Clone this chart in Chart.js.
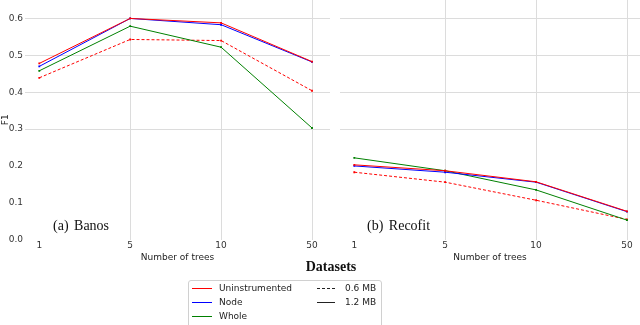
<!DOCTYPE html>
<html><head><meta charset="utf-8">
<script src="https://cdn.jsdelivr.net/npm/chart.js@4.4.1/dist/chart.umd.min.js"></script>
<style>
html,body{margin:0;padding:0;background:#fff;width:640px;height:325px;overflow:hidden;position:relative;}
#wrapL{position:absolute;left:0;top:0;width:330px;height:265px;}
#wrapR{position:absolute;left:330px;top:0;width:310px;height:265px;}
.panel{position:absolute;font-family:"Liberation Serif","DejaVu Serif",serif;font-size:14px;color:#111;white-space:nowrap;line-height:16px;word-spacing:2px;}
#title{position:absolute;left:281px;width:100px;top:259px;text-align:center;font-family:"Liberation Serif","DejaVu Serif",serif;font-weight:bold;font-size:14px;line-height:16px;color:#111;}
#legend{position:absolute;left:188px;top:280px;width:194px;height:60px;border:1px solid #d0d0d0;border-radius:3px;box-sizing:border-box;}
.li{position:absolute;font-family:"DejaVu Sans",sans-serif;font-size:9px;line-height:11px;color:#222;white-space:nowrap;}
.hd{position:absolute;height:1px;width:20px;}
</style>
</head><body>
<div id="wrapL"><canvas id="cL" width="330" height="265"></canvas></div>
<div id="wrapR"><canvas id="cR" width="310" height="265"></canvas></div>
<div class="panel" style="left:53px;top:218px;">(a) Banos</div>
<div class="panel" style="left:367px;top:218px;">(b) Recofit</div>
<div id="title">Datasets</div>
<div id="legend"></div>
<script>
// ---- data ----
const treeLabels = ['1', '5', '10', '50'];
const seriesNames = ['Uninstrumented', 'Node', 'Whole'];
const seriesColors = ['#ff0000', '#0000ff', '#008000'];
const sizeLabels = ['0.6 MB', '1.2 MB'];
const gridValues = [0.3, 0.4, 0.5, 0.6];

const banosUninstrumented12 = [0.478, 0.600, 0.588, 0.483];
const banosNode12           = [0.470, 0.600, 0.583, 0.482];
const banosWhole12          = [0.458, 0.579, 0.522, 0.303];
const banosUninstrumented06 = [0.439, 0.543, 0.540, 0.404];

const recofitUninstrumented12 = [0.203, 0.187, 0.157, 0.077];
const recofitNode12           = [0.200, 0.183, 0.156, 0.076];
const recofitWhole12          = [0.222, 0.187, 0.135, 0.053];
const recofitUninstrumented06 = [0.183, 0.156, 0.107, 0.055];

// ---- helpers ----
const GRID = '#dcdcdc';
const CLEAR = 'rgba(0,0,0,0)';
const hGrid = {
  id: 'hGrid',
  beforeDatasetsDraw(chart) {
    const ctx = chart.ctx, y = chart.scales.y, a = chart.chartArea;
    ctx.save();
    ctx.strokeStyle = GRID; ctx.lineWidth = 1;
    gridValues.forEach(v => {
      const py = Math.round(y.getPixelForValue(v)) + 0.5;
      ctx.beginPath(); ctx.moveTo(a.left, py); ctx.lineTo(a.right, py); ctx.stroke();
    });
    ctx.restore();
  }
};
function ds(label, vals, color, dash) {
  return {
    label: label,
    data: vals.map((v, i) => ({x: i, y: v})),
    borderColor: color, backgroundColor: color,
    borderWidth: 1, borderDash: dash || [],
    pointStyle: 'rect', pointRadius: 1.3, pointBorderWidth: 0,
    pointHoverRadius: 1.3, tension: 0
  };
}
function makeChart(id, sets, xmin, xmax, showY, yWidth) {
  return new Chart(document.getElementById(id), {
    type: 'line',
    data: {datasets: sets},
    plugins: [hGrid],
    options: {
      responsive: false, animation: false,
      layout: {padding: 0, autoPadding: false},
      plugins: {legend: {display: false}, tooltip: {enabled: false}},
      scales: {
        x: {
          type: 'linear', min: xmin, max: xmax,
          afterFit: s => { s.height = 25.3; s.paddingLeft = 0; s.paddingRight = 0; },
          ticks: {stepSize: 1, includeBounds: false, padding: 1, color: '#333', autoSkip: false, maxRotation: 0,
                  font: {family: 'DejaVu Sans', size: 9},
                  callback: v => treeLabels[v] !== undefined ? treeLabels[v] : ''},
          grid: {drawTicks: false, lineWidth: 1,
                 color: c => (c.tick && [1, 2, 3].includes(c.tick.value)) ? GRID : CLEAR},
          border: {display: false},
          title: {display: true, text: 'Number of trees', color: '#222',
                  font: {family: 'DejaVu Sans', size: 9}, padding: {top: 0, bottom: 2}}
        },
        y: {
          min: 0, max: 0.65,
          afterFit: s => { s.width = yWidth; s.paddingTop = 0; s.paddingBottom = 0; },
          ticks: {display: showY, stepSize: 0.1, includeBounds: false, padding: 2, color: '#333',
                  font: {family: 'DejaVu Sans', size: 9},
                  callback: v => v.toFixed(1)},
          grid: {display: false, drawTicks: false},
          border: {display: false},
          title: {display: showY, text: 'F1', color: '#222', padding: 0,
                  font: {family: 'DejaVu Sans', size: 9}}
        }
      }
    }
  });
}

makeChart('cL', [
  ds(seriesNames[0] + ' ' + sizeLabels[1], banosUninstrumented12, seriesColors[0]),
  ds(seriesNames[1] + ' ' + sizeLabels[1], banosNode12, seriesColors[1]),
  ds(seriesNames[2] + ' ' + sizeLabels[1], banosWhole12, seriesColors[2]),
  ds(seriesNames[0] + ' ' + sizeLabels[0], banosUninstrumented06, seriesColors[0], [3, 2])
], -0.157, 3.198, true, 25);

makeChart('cR', [
  ds(seriesNames[0] + ' ' + sizeLabels[1], recofitUninstrumented12, seriesColors[0]),
  ds(seriesNames[1] + ' ' + sizeLabels[1], recofitNode12, seriesColors[1]),
  ds(seriesNames[2] + ' ' + sizeLabels[1], recofitWhole12, seriesColors[2]),
  ds(seriesNames[0] + ' ' + sizeLabels[0], recofitUninstrumented06, seriesColors[0], [3, 2])
], -0.157, 3.143, false, 10);

// ---- legend ----
const leg = document.getElementById('legend');
const rowsY = [7, 21, 35];
seriesNames.forEach((n, i) => {
  const h = document.createElement('div');
  h.className = 'hd';
  h.style.left = '3px'; h.style.top = rowsY[i] + 'px'; h.style.background = seriesColors[i];
  leg.appendChild(h);
  const t = document.createElement('div');
  t.className = 'li';
  t.style.left = '30px'; t.style.top = (rowsY[i] - 5) + 'px';
  t.textContent = n;
  leg.appendChild(t);
});
['dashed', 'solid'].forEach((st, i) => {
  const h = document.createElement('div');
  h.className = 'hd';
  h.style.left = '128px'; h.style.width = '18px'; h.style.height = '0';
  h.style.top = rowsY[i] + 'px'; h.style.borderTop = '1px ' + st + ' #222';
  leg.appendChild(h);
  const t = document.createElement('div');
  t.className = 'li';
  t.style.left = '156px'; t.style.top = (rowsY[i] - 5) + 'px';
  t.textContent = sizeLabels[i];
  leg.appendChild(t);
});
</script>
</body></html>
